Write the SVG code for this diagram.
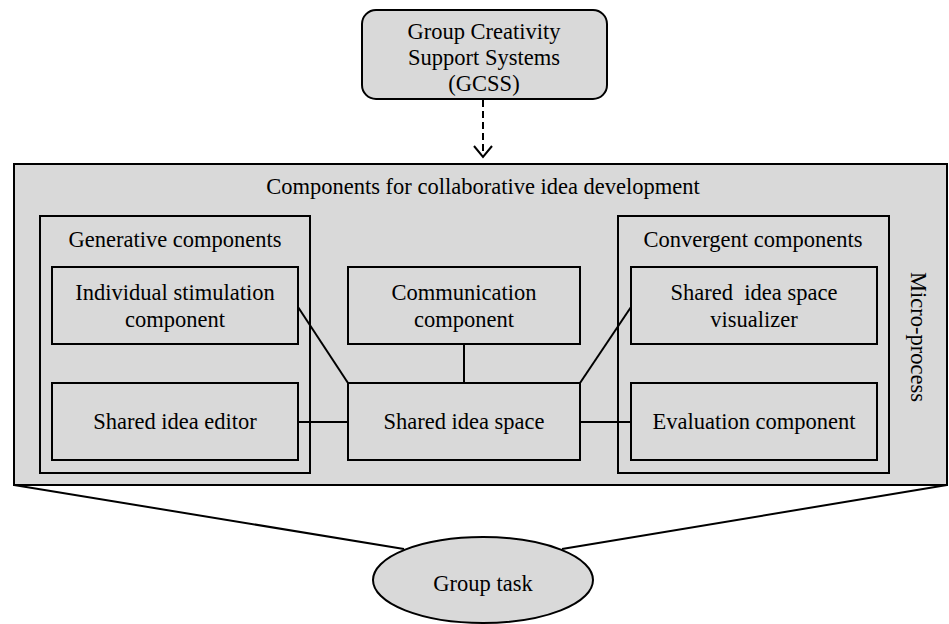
<svg xmlns="http://www.w3.org/2000/svg" width="949" height="624" viewBox="0 0 949 624">
<style>
.box{fill:#d9d9d9;stroke:#000;stroke-width:2}
.t{font-family:"Liberation Serif","Times New Roman",serif;font-size:22.5px;fill:#000;text-anchor:middle}
.ln{stroke:#000;stroke-width:2;fill:none}
</style>
<rect width="949" height="624" fill="#fff"/>
<g id="connectors">
<line class="ln" x1="14" y1="485" x2="404" y2="549"/>
<line class="ln" x1="947" y1="485" x2="562" y2="549"/>
<line class="ln" x1="483" y1="100" x2="483" y2="155" stroke-dasharray="7,4" stroke-width="1.6"/>
<polyline class="ln" points="474,146 483,157 492,146" stroke-width="1.6"/>
</g>
<g id="gcss">
<rect class="box" x="362" y="10" width="245" height="89" rx="14"/>
<text class="t" x="484" y="39">Group Creativity</text>
<text class="t" x="484" y="65">Support Systems</text>
<text class="t" x="484" y="91">(GCSS)</text>
</g>
<g id="micro-process">
<rect class="box" x="14" y="164" width="933" height="321"/>
<text class="t" x="483" y="194">Components for collaborative idea development</text>
<text class="t" transform="translate(911,337) rotate(90)">Micro-process</text>
</g>
<g id="generative">
<rect class="box" x="40" y="216" width="270" height="257"/>
<text class="t" x="175" y="247">Generative components</text>
</g>
<g id="convergent">
<rect class="box" x="618" y="216" width="271" height="257"/>
<text class="t" x="753" y="247">Convergent components</text>
</g>
<g id="conn-inner">
<line class="ln" x1="298" y1="307" x2="348" y2="383"/>
<line class="ln" x1="464" y1="344" x2="464" y2="383"/>
<line class="ln" x1="580" y1="383" x2="631" y2="307"/>
<line class="ln" x1="298" y1="422" x2="348" y2="422"/>
<line class="ln" x1="580" y1="422" x2="631" y2="422"/>
</g>
<g id="individual">
<rect class="box" x="52" y="267" width="246" height="77"/>
<text class="t" x="175" y="300">Individual stimulation</text>
<text class="t" x="175" y="327">component</text>
</g>
<g id="editor">
<rect class="box" x="52" y="383" width="246" height="77"/>
<text class="t" x="175" y="429">Shared idea editor</text>
</g>
<g id="communication">
<rect class="box" x="348" y="267" width="232" height="77"/>
<text class="t" x="464" y="300">Communication</text>
<text class="t" x="464" y="327">component</text>
</g>
<g id="space">
<rect class="box" x="348" y="383" width="232" height="77"/>
<text class="t" x="464" y="429">Shared idea space</text>
</g>
<g id="visualizer">
<rect class="box" x="631" y="267" width="246" height="77"/>
<text class="t" x="754" y="300" xml:space="preserve">Shared  idea space</text>
<text class="t" x="754" y="327">visualizer</text>
</g>
<g id="evaluation">
<rect class="box" x="631" y="383" width="246" height="77"/>
<text class="t" x="754" y="429">Evaluation component</text>
</g>
<g id="group-task">
<ellipse class="box" cx="483" cy="580" rx="110" ry="43"/>
<text class="t" x="483" y="591">Group task</text>
</g>
</svg>
